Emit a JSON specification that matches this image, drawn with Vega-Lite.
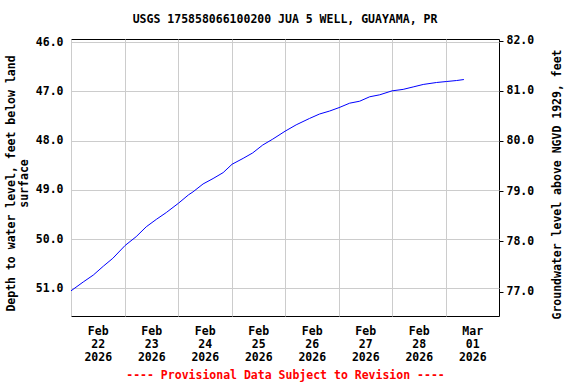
{
  "$schema": "https://vega.github.io/schema/vega-lite/v6.json",
  "width": 428,
  "height": 277,
  "autosize": {"type": "none"},
  "padding": {"left": 71, "top": 39, "right": 77, "bottom": 68},
  "background": "white",
  "title": {
    "text": "USGS 175858066100200 JUA 5 WELL, GUAYAMA, PR",
    "font": "DejaVu Sans Mono",
    "fontSize": 11.5,
    "fontWeight": "bold",
    "color": "black",
    "anchor": "middle",
    "offset": 9
  },
  "config": {
    "view": {"stroke": "black", "strokeWidth": 1},
    "font": "DejaVu Sans Mono",
    "axis": {
      "labelFont": "DejaVu Sans Mono",
      "labelFontSize": 11.5,
      "labelFontWeight": "bold",
      "labelColor": "black",
      "titleFont": "DejaVu Sans Mono",
      "titleFontSize": 11.5,
      "titleFontWeight": "bold",
      "titleColor": "black",
      "gridColor": "#cccccc",
      "gridWidth": 1,
      "gridOpacity": 1,
      "domain": false,
      "tickColor": "black"
    }
  },
  "layer": [
    {
      "data": {
        "values": [
          {"t": "2026-02-22T00:00", "depth": 51.05},
          {"t": "2026-02-22T05:30", "depth": 50.87},
          {"t": "2026-02-22T10:00", "depth": 50.73},
          {"t": "2026-02-22T14:30", "depth": 50.55},
          {"t": "2026-02-22T18:45", "depth": 50.39},
          {"t": "2026-02-23T00:15", "depth": 50.13},
          {"t": "2026-02-23T05:15", "depth": 49.95},
          {"t": "2026-02-23T09:45", "depth": 49.75},
          {"t": "2026-02-23T14:15", "depth": 49.60},
          {"t": "2026-02-23T18:45", "depth": 49.46},
          {"t": "2026-02-24T00:15", "depth": 49.27},
          {"t": "2026-02-24T04:45", "depth": 49.10},
          {"t": "2026-02-24T06:45", "depth": 49.04},
          {"t": "2026-02-24T11:15", "depth": 48.88},
          {"t": "2026-02-24T15:45", "depth": 48.77},
          {"t": "2026-02-24T20:15", "depth": 48.65},
          {"t": "2026-02-25T00:15", "depth": 48.48},
          {"t": "2026-02-25T05:15", "depth": 48.36},
          {"t": "2026-02-25T09:30", "depth": 48.25},
          {"t": "2026-02-25T14:00", "depth": 48.09},
          {"t": "2026-02-25T18:30", "depth": 47.97},
          {"t": "2026-02-26T00:00", "depth": 47.81},
          {"t": "2026-02-26T05:00", "depth": 47.68},
          {"t": "2026-02-26T11:00", "depth": 47.55},
          {"t": "2026-02-26T15:30", "depth": 47.46},
          {"t": "2026-02-26T20:00", "depth": 47.40},
          {"t": "2026-02-27T00:15", "depth": 47.33},
          {"t": "2026-02-27T05:00", "depth": 47.24},
          {"t": "2026-02-27T09:30", "depth": 47.20},
          {"t": "2026-02-27T14:00", "depth": 47.11},
          {"t": "2026-02-27T18:30", "depth": 47.07},
          {"t": "2026-02-28T00:00", "depth": 46.99},
          {"t": "2026-02-28T05:00", "depth": 46.96},
          {"t": "2026-02-28T09:30", "depth": 46.91},
          {"t": "2026-02-28T14:00", "depth": 46.86},
          {"t": "2026-02-28T20:00", "depth": 46.82},
          {"t": "2026-03-01T00:30", "depth": 46.80},
          {"t": "2026-03-01T05:00", "depth": 46.78},
          {"t": "2026-03-01T08:15", "depth": 46.76}
        ]
      },
      "mark": {"type": "line", "color": "#0000ff", "strokeWidth": 1, "clip": true},
      "encoding": {
        "x": {
          "field": "t",
          "type": "temporal",
          "scale": {
            "domain": [
              {"year": 2026, "month": "feb", "date": 22},
              {"year": 2026, "month": "mar", "date": 2}
            ],
            "nice": false
          },
          "axis": {
            "values": [
              {"year": 2026, "month": "feb", "date": 22},
              {"year": 2026, "month": "feb", "date": 23},
              {"year": 2026, "month": "feb", "date": 24},
              {"year": 2026, "month": "feb", "date": 25},
              {"year": 2026, "month": "feb", "date": 26},
              {"year": 2026, "month": "feb", "date": 27},
              {"year": 2026, "month": "feb", "date": 28},
              {"year": 2026, "month": "mar", "date": 1}
            ],
            "labelExpr": "[timeFormat(datum.value, '%b'), timeFormat(datum.value, '%d'), timeFormat(datum.value, '%Y')]",
            "labelOffset": 26.75,
            "labelAlign": "center",
            "labelBaseline": "top",
            "labelLineHeight": 13,
            "labelPadding": 9,
            "labelFlush": false,
            "labelOverlap": false,
            "ticks": false,
            "tickSize": 0,
            "grid": true,
            "title": "---- Provisional Data Subject to Revision ----",
            "titleColor": "#ff0000",
            "titleBaseline": "middle",
            "titleY": 59
          }
        },
        "y": {
          "field": "depth",
          "type": "quantitative",
          "scale": {"domain": [45.937, 51.561], "reverse": true, "zero": false, "nice": false},
          "axis": {
            "values": [46, 47, 48, 49, 50, 51],
            "format": ".1f",
            "grid": true,
            "ticks": false,
            "tickSize": 0,
            "labelPadding": 8,
            "title": ["Depth to water level, feet below land", "surface"],
            "titleLineHeight": 13,
            "titlePadding": 6,
            "titleY": 144
          }
        }
      }
    },
    {
      "data": {"values": [{"elev": 77}, {"elev": 82}]},
      "mark": {"type": "point", "opacity": 0},
      "encoding": {
        "y": {
          "field": "elev",
          "type": "quantitative",
          "scale": {"domain": [76.512, 82.03], "zero": false, "nice": false},
          "axis": {
            "orient": "right",
            "values": [77, 78, 79, 80, 81, 82],
            "format": ".1f",
            "grid": false,
            "ticks": true,
            "tickSize": 4,
            "tickWidth": 1,
            "labelPadding": 3,
            "title": "Groundwater level above NGVD 1929, feet",
            "titleAngle": 270,
            "titlePadding": 29,
            "titleY": 145
          }
        }
      }
    }
  ],
  "resolve": {"scale": {"y": "independent"}}
}
